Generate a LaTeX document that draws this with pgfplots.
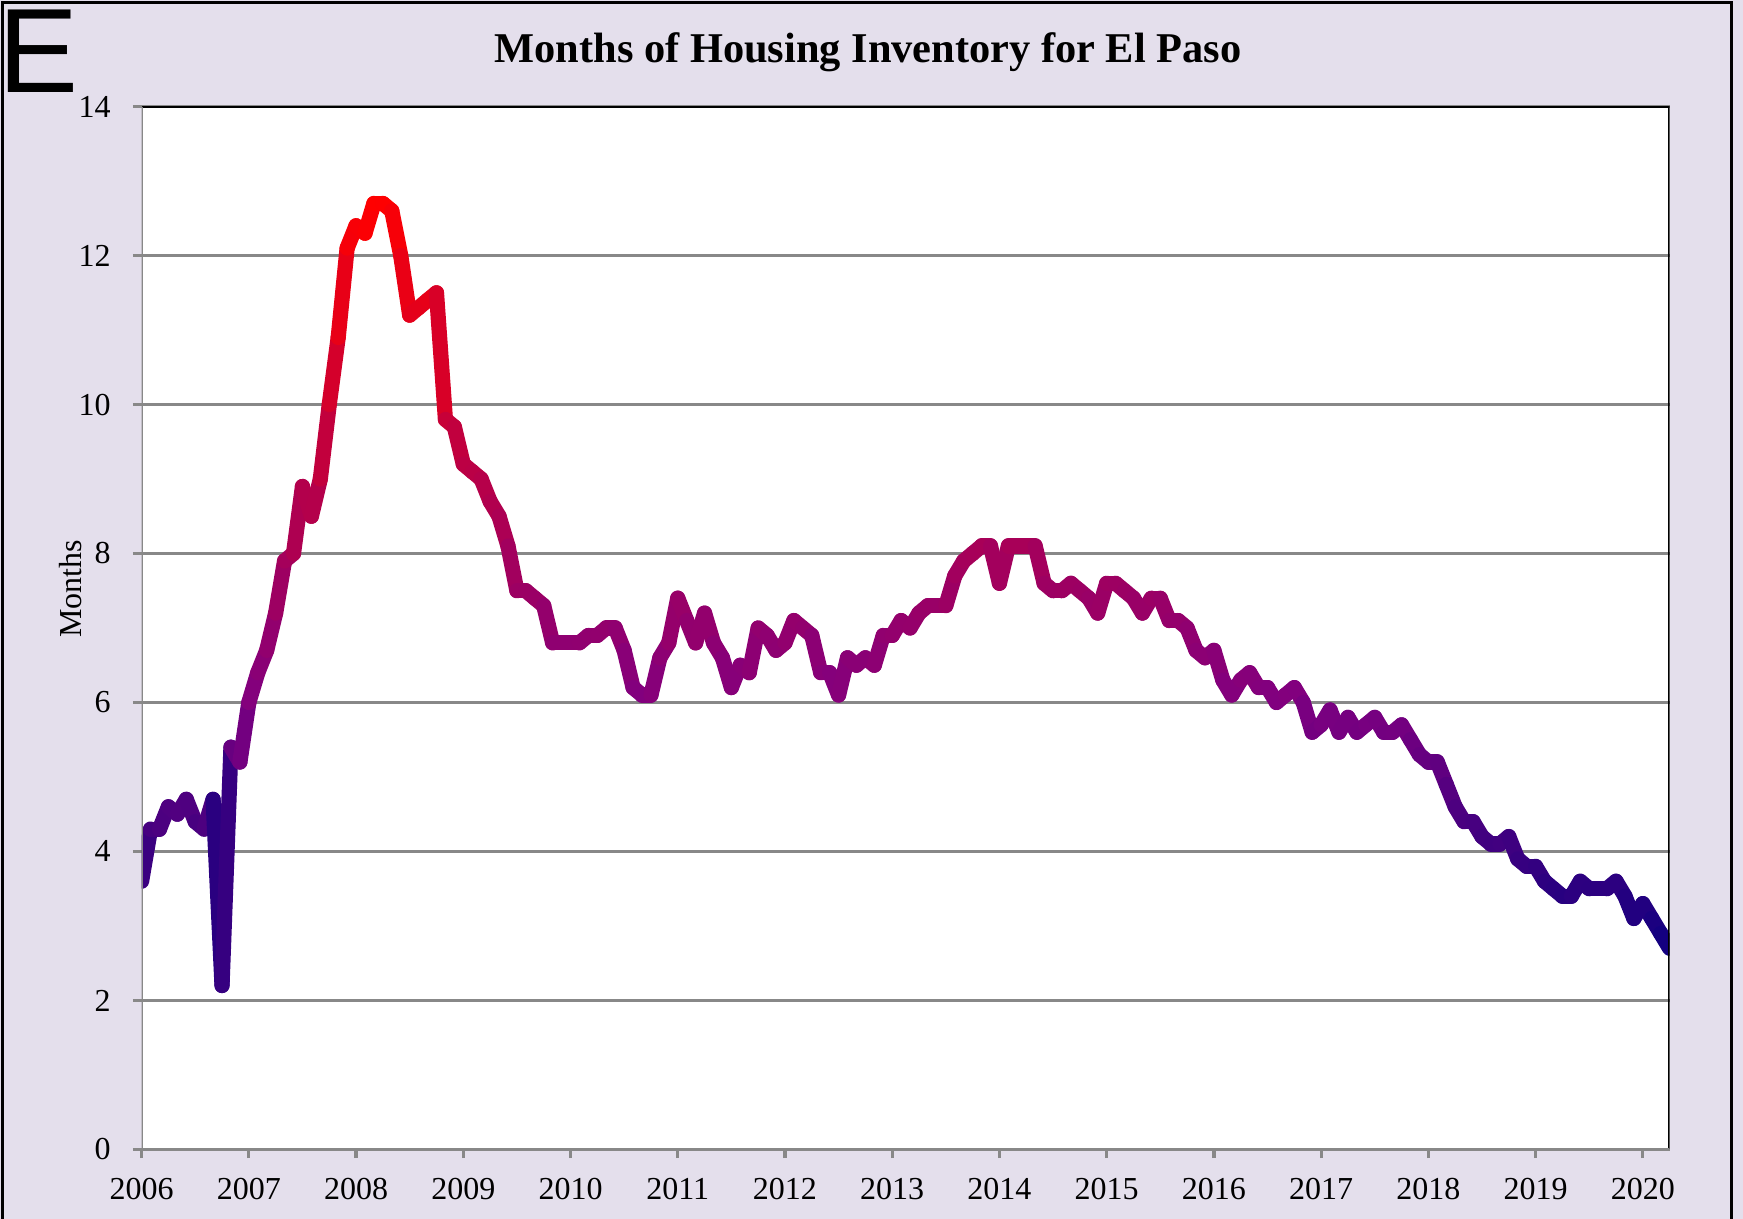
\documentclass[border=0pt]{standalone}
\usepackage{fontspec}
\setmainfont{Liberation Serif}
\newfontfamily\arialfont{Liberation Sans}
\usepackage{pgfplots}
\pgfplotsset{compat=1.18}
\definecolor{lav}{RGB}{228,223,236}
\definecolor{gridgray}{RGB}{136,136,136}

\pgfplotstableread{
m v
0 3.6
1 4.3
2 4.3
3 4.6
4 4.5
5 4.7
6 4.4
7 4.3
8 4.7
9 2.2
10 5.4
11 5.2
12 6.0
13 6.4
14 6.7
15 7.2
16 7.9
17 8.0
18 8.9
19 8.5
20 9.0
21 10.0
22 10.9
23 12.1
24 12.4
25 12.3
26 12.7
27 12.7
28 12.6
29 12.0
30 11.2
31 11.3
32 11.4
33 11.5
34 9.8
35 9.7
36 9.2
37 9.1
38 9.0
39 8.7
40 8.5
41 8.1
42 7.5
43 7.5
44 7.4
45 7.3
46 6.8
47 6.8
48 6.8
49 6.8
50 6.9
51 6.9
52 7.0
53 7.0
54 6.7
55 6.2
56 6.1
57 6.1
58 6.6
59 6.8
60 7.4
61 7.1
62 6.8
63 7.2
64 6.8
65 6.6
66 6.2
67 6.5
68 6.4
69 7.0
70 6.9
71 6.7
72 6.8
73 7.1
74 7.0
75 6.9
76 6.4
77 6.4
78 6.1
79 6.6
80 6.5
81 6.6
82 6.5
83 6.9
84 6.9
85 7.1
86 7.0
87 7.2
88 7.3
89 7.3
90 7.3
91 7.7
92 7.9
93 8.0
94 8.1
95 8.1
96 7.6
97 8.1
98 8.1
99 8.1
100 8.1
101 7.6
102 7.5
103 7.5
104 7.6
105 7.5
106 7.4
107 7.2
108 7.6
109 7.6
110 7.5
111 7.4
112 7.2
113 7.4
114 7.4
115 7.1
116 7.1
117 7.0
118 6.7
119 6.6
120 6.7
121 6.3
122 6.1
123 6.3
124 6.4
125 6.2
126 6.2
127 6.0
128 6.1
129 6.2
130 6.0
131 5.6
132 5.7
133 5.9
134 5.6
135 5.8
136 5.6
137 5.7
138 5.8
139 5.6
140 5.6
141 5.7
142 5.5
143 5.3
144 5.2
145 5.2
146 4.9
147 4.6
148 4.4
149 4.4
150 4.2
151 4.1
152 4.1
153 4.2
154 3.9
155 3.8
156 3.8
157 3.6
158 3.5
159 3.4
160 3.4
161 3.6
162 3.5
163 3.5
164 3.5
165 3.6
166 3.4
167 3.1
168 3.3
169 3.1
170 2.9
171 2.7
}\elpaso

\begin{document}
\begin{tikzpicture}
\useasboundingbox (0,0) rectangle (435.75pt,304.75pt);
\fill[lav] (0,0) rectangle (435.75pt,304.75pt);
\draw[black, line width=0.8pt] (0.6pt,-1pt) -- (0.6pt,304.1pt) -- (432.9pt,304.1pt) -- (432.9pt,-1pt);

\node[anchor=base west, inner sep=0pt, font=\arialfont\fontsize{30}{30}\selectfont] at (-0.5pt,281.5pt) {E};
\node[anchor=base, inner sep=0pt, font=\bfseries\fontsize{10.6}{12}\selectfont] at (217pt,289pt) {Months of Housing Inventory for El Paso};
\node[rotate=90, anchor=base, inner sep=0pt, font=\fontsize{8}{9}\selectfont] at (20.4pt,157.5pt) {Months};

\begin{axis}[
    at={(35.4pt,17.4pt)}, anchor=south west,
    scale only axis,
    width=382pt, height=260.7pt,
    xmin=0, xmax=171,
    ymin=0, ymax=14,
    xtick={0,12,...,168},
    xticklabels={2006,2007,2008,2009,2010,2011,2012,2013,2014,2015,2016,2017,2018,2019,2020},
    ytick={0,2,...,14},
    xtick pos=bottom, ytick pos=left,
    tick align=outside,
    major tick length=2.2pt,
    tick style={gridgray, line width=0.8pt},
    ymajorgrids,
    grid style={gridgray, line width=0.6pt},
    axis line style={draw=none},
    axis background/.style={fill=white},
    tick label style={font=\fontsize{8}{9}\selectfont},
    /pgf/number format/assume math mode=true,
    xticklabel style={yshift=-1.5pt},
    yticklabel style={xshift=-2pt},
    colormap={elp}{rgb255(0cm)=(0,0,128); rgb255(3.8cm)=(128,0,128); rgb255(10.5cm)=(255,0,0)},
    point meta min=2.2, point meta max=12.7,
]
\addplot[mesh, point meta=\thisrow{v}, line width=3.8pt, line cap=round, line join=round] table[x=m, y=v] {\elpaso};
\draw[black, line width=0.8pt] (rel axis cs:0,1) -- (rel axis cs:1,1) -- (rel axis cs:1,0);
\draw[gridgray, line width=0.8pt] (rel axis cs:0,1) -- (rel axis cs:0,0) -- (rel axis cs:1,0);
\end{axis}
\end{tikzpicture}
\end{document}
